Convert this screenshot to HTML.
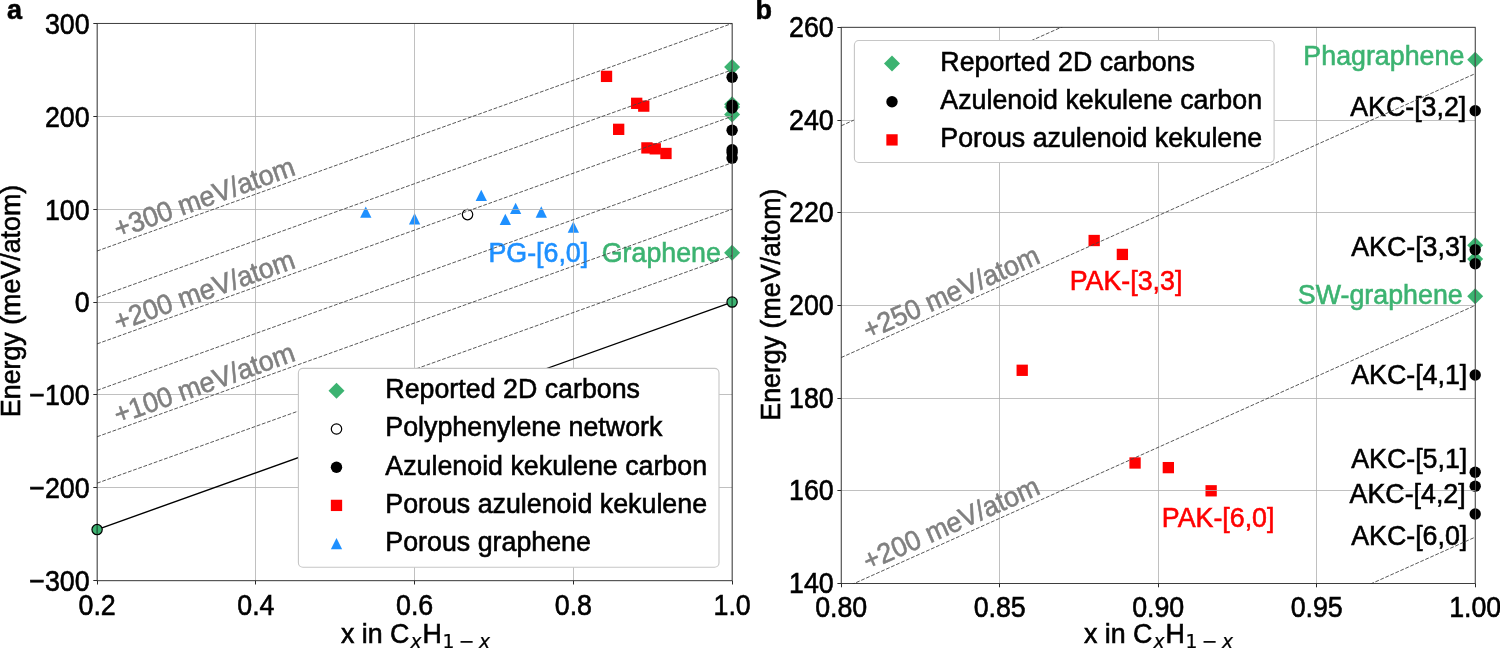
<!DOCTYPE html>
<html lang="en"><head><meta charset="utf-8"><title>Energy vs composition</title>
<style>html,body{margin:0;padding:0;background:#fff}body{width:1500px;height:658px;overflow:hidden}</style></head>
<body>
<svg width="1500" height="658" viewBox="0 0 1500 658" font-family='"Liberation Sans", Arial, Helvetica, sans-serif' style="display:block">
<rect width="1500" height="658" fill="#fff"/>
<clipPath id="ca"><rect x="97.1" y="23.45" width="635.0" height="557.25"/></clipPath>
<path d="M732.10 59.10L740.10 67.10L732.10 75.10L724.10 67.10Z" fill="#3cb371"/>
<path d="M732.10 96.25L740.10 104.25L732.10 112.25L724.10 104.25Z" fill="#3cb371"/>
<path d="M732.10 99.04L740.10 107.04L732.10 115.04L724.10 107.04Z" fill="#3cb371"/>
<path d="M732.10 106.47L740.10 114.47L732.10 122.47L724.10 114.47Z" fill="#3cb371"/>
<path d="M732.10 244.85L740.10 252.85L732.10 260.85L724.10 252.85Z" fill="#3cb371"/>
<circle cx="467.54" cy="214.59" r="5.2" fill="#fff" stroke="#000" stroke-width="1.2"/>
<circle cx="732.10" cy="77.32" r="5.7" fill="#000"/>
<circle cx="732.10" cy="105.18" r="5.7" fill="#000"/>
<circle cx="732.10" cy="107.97" r="5.7" fill="#000"/>
<circle cx="732.10" cy="130.26" r="5.7" fill="#000"/>
<circle cx="732.10" cy="149.76" r="5.7" fill="#000"/>
<circle cx="732.10" cy="152.55" r="5.7" fill="#000"/>
<circle cx="732.10" cy="158.12" r="5.7" fill="#000"/>
<rect x="600.88" y="70.74" width="11.3" height="11.3" fill="#ff0000"/>
<rect x="631.04" y="97.67" width="11.3" height="11.3" fill="#ff0000"/>
<rect x="638.11" y="100.46" width="11.3" height="11.3" fill="#ff0000"/>
<rect x="613.02" y="123.68" width="11.3" height="11.3" fill="#ff0000"/>
<rect x="641.28" y="142.25" width="11.3" height="11.3" fill="#ff0000"/>
<rect x="649.62" y="143.18" width="11.3" height="11.3" fill="#ff0000"/>
<rect x="660.33" y="147.82" width="11.3" height="11.3" fill="#ff0000"/>
<path d="M365.78 206.52L371.43 217.82L360.13 217.82Z" fill="#1e90ff"/>
<path d="M414.60 213.12L420.25 224.42L408.95 224.42Z" fill="#1e90ff"/>
<path d="M481.27 189.80L486.92 201.10L475.62 201.10Z" fill="#1e90ff"/>
<path d="M505.33 213.77L510.98 225.07L499.68 225.07Z" fill="#1e90ff"/>
<path d="M515.64 202.71L521.29 214.01L509.99 214.01Z" fill="#1e90ff"/>
<path d="M541.28 206.34L546.93 217.64L535.63 217.64Z" fill="#1e90ff"/>
<path d="M573.35 221.38L579.00 232.68L567.70 232.68Z" fill="#1e90ff"/>
<path d="M97.50 23.45V580.7M255.50 23.45V580.7M414.50 23.45V580.7M573.50 23.45V580.7M732.50 23.45V580.7M97.1 23.50H732.1M97.1 116.50H732.1M97.1 209.50H732.1M97.1 302.50H732.1M97.1 394.50H732.1M97.1 487.50H732.1M97.1 580.50H732.1" stroke="#b0b0b0" stroke-width="0.8" fill="none"/>
<text transform="translate(588.20,261.70) scale(0.9434,1)" text-anchor="end" fill="#1e90ff" stroke="#1e90ff" stroke-width="0.6" font-size="28.41">PG-[6,0]</text>
<text transform="translate(720.90,261.70) scale(0.9569,1)" text-anchor="end" fill="#3cb371" stroke="#3cb371" stroke-width="0.6" font-size="28.01">Graphene</text>
<path d="M97.10 529.62L732.10 302.07" stroke="#000" stroke-width="1.4" fill="none"/>
<path d="M97.10 483.18L732.10 255.64M97.10 436.74L732.10 209.20M97.10 390.31L732.10 162.76M97.10 343.87L732.10 116.33M97.10 297.43L732.10 69.89M97.10 250.99L732.10 23.45" stroke="#454545" stroke-width="0.9" stroke-dasharray="3.8 1.67" fill="none" clip-path="url(#ca)"/>
<circle cx="97.10" cy="529.62" r="5.15" fill="#3cb371" stroke="#000" stroke-width="1.2"/>
<circle cx="732.10" cy="302.07" r="5.15" fill="#3cb371" stroke="#000" stroke-width="1.2"/>
<rect x="97.1" y="23.45" width="635.0" height="557.25" fill="none" stroke="#000" stroke-opacity="0.68" stroke-width="1"/>
<path d="M97.50 580.7v3.8M255.50 580.7v3.8M414.50 580.7v3.8M573.50 580.7v3.8M732.50 580.7v3.8M97.1 23.50h-3.8M97.1 116.50h-3.8M97.1 209.50h-3.8M97.1 302.50h-3.8M97.1 394.50h-3.8M97.1 487.50h-3.8M97.1 580.50h-3.8" stroke="#2a2a2a" stroke-width="1" fill="none"/>
<text transform="translate(97.10,614.60) scale(0.9259,1)" text-anchor="middle" fill="#000" stroke="#000" stroke-width="0.6" font-size="28.94">0.2</text>
<text transform="translate(255.85,614.60) scale(0.9259,1)" text-anchor="middle" fill="#000" stroke="#000" stroke-width="0.6" font-size="28.94">0.4</text>
<text transform="translate(414.60,614.60) scale(0.9259,1)" text-anchor="middle" fill="#000" stroke="#000" stroke-width="0.6" font-size="28.94">0.6</text>
<text transform="translate(573.35,614.60) scale(0.9259,1)" text-anchor="middle" fill="#000" stroke="#000" stroke-width="0.6" font-size="28.94">0.8</text>
<text transform="translate(732.10,614.60) scale(0.9259,1)" text-anchor="middle" fill="#000" stroke="#000" stroke-width="0.6" font-size="28.94">1.0</text>
<text transform="translate(89.60,33.85) scale(0.9259,1)" text-anchor="end" fill="#000" stroke="#000" stroke-width="0.6" font-size="28.94">300</text>
<text transform="translate(89.60,126.73) scale(0.9259,1)" text-anchor="end" fill="#000" stroke="#000" stroke-width="0.6" font-size="28.94">200</text>
<text transform="translate(89.60,219.60) scale(0.9259,1)" text-anchor="end" fill="#000" stroke="#000" stroke-width="0.6" font-size="28.94">100</text>
<text transform="translate(89.60,312.47) scale(0.9259,1)" text-anchor="end" fill="#000" stroke="#000" stroke-width="0.6" font-size="28.94">0</text>
<text transform="translate(89.60,405.35) scale(0.9259,1)" text-anchor="end" fill="#000" stroke="#000" stroke-width="0.6" font-size="28.94">−100</text>
<text transform="translate(89.60,498.22) scale(0.9259,1)" text-anchor="end" fill="#000" stroke="#000" stroke-width="0.6" font-size="28.94">−200</text>
<text transform="translate(89.60,591.10) scale(0.9259,1)" text-anchor="end" fill="#000" stroke="#000" stroke-width="0.6" font-size="28.94">−300</text>
<text transform="translate(118.00,238.50) rotate(-19.7) scale(0.9569,1)" text-anchor="start" fill="#808080" stroke="#808080" stroke-width="0.6" font-size="28.01">+300 meV/atom</text>
<text transform="translate(118.00,331.40) rotate(-19.7) scale(0.9569,1)" text-anchor="start" fill="#808080" stroke="#808080" stroke-width="0.6" font-size="28.01">+200 meV/atom</text>
<text transform="translate(118.00,424.30) rotate(-19.7) scale(0.9569,1)" text-anchor="start" fill="#808080" stroke="#808080" stroke-width="0.6" font-size="28.01">+100 meV/atom</text>
<rect x="298.4" y="368.4" width="420.6" height="198.9" rx="4.5" fill="#fff" fill-opacity="1" stroke="#c6c6c6" stroke-width="1.1"/>
<path d="M336.50 382.80L344.50 390.80L336.50 398.80L328.50 390.80Z" fill="#3cb371"/>
<circle cx="336.50" cy="429.00" r="5.2" fill="#fff" stroke="#000" stroke-width="1.2"/>
<circle cx="336.50" cy="467.20" r="5.7" fill="#000"/>
<rect x="330.85" y="499.75" width="11.3" height="11.3" fill="#ff0000"/>
<path d="M336.50 537.95L342.15 549.25L330.85 549.25Z" fill="#1e90ff"/>
<text transform="translate(385.30,398.20) scale(0.9569,1)" text-anchor="start" fill="#000" stroke="#000" stroke-width="0.6" font-size="28.01">Reported 2D carbons</text>
<text transform="translate(385.30,436.40) scale(0.9569,1)" text-anchor="start" fill="#000" stroke="#000" stroke-width="0.6" font-size="28.01">Polyphenylene network</text>
<text transform="translate(385.30,474.60) scale(0.9569,1)" text-anchor="start" fill="#000" stroke="#000" stroke-width="0.6" font-size="28.01">Azulenoid kekulene carbon</text>
<text transform="translate(385.30,512.80) scale(0.9569,1)" text-anchor="start" fill="#000" stroke="#000" stroke-width="0.6" font-size="28.01">Porous azulenoid kekulene</text>
<text transform="translate(385.30,551.00) scale(0.9569,1)" text-anchor="start" fill="#000" stroke="#000" stroke-width="0.6" font-size="28.01">Porous graphene</text>
<text transform="translate(340.90,643.00) scale(0.9569,1)" text-anchor="start" fill="#000" stroke="#000" stroke-width="0.6" font-size="28.01">x in C<tspan font-size="19.6" stroke-width="0.25" dy="4.6" dx="1.2" font-style="italic" font-family="DejaVu Sans, sans-serif">x</tspan><tspan dy="-4.6" dx="1.0">H</tspan><tspan font-size="19.6" stroke-width="0.25" dy="4.6" dx="0.5" word-spacing="-1.6" font-family="DejaVu Sans, sans-serif">1 − <tspan font-style="italic">x</tspan></tspan></text>
<text transform="translate(20.10,301.00) rotate(-90) scale(0.9804,1)" text-anchor="middle" fill="#000" stroke="#000" stroke-width="0.6" font-size="27.34">Energy (meV/atom)</text>
<text transform="translate(7.00,19.20) scale(0.9569,1)" text-anchor="start" fill="#000" stroke="#000" stroke-width="0.6" font-size="28.21" font-weight="bold">a</text>
<clipPath id="cb"><rect x="841.2" y="27.3" width="634.0" height="556.2"/></clipPath>
<path d="M1475.20 51.75L1483.20 59.75L1475.20 67.75L1467.20 59.75Z" fill="#3cb371"/>
<path d="M1475.20 237.15L1483.20 245.15L1475.20 253.15L1467.20 245.15Z" fill="#3cb371"/>
<path d="M1475.20 251.05L1483.20 259.05L1475.20 267.05L1467.20 259.05Z" fill="#3cb371"/>
<path d="M1475.20 288.13L1483.20 296.13L1475.20 304.13L1467.20 296.13Z" fill="#3cb371"/>
<circle cx="1475.20" cy="110.73" r="5.7" fill="#000"/>
<circle cx="1475.20" cy="249.78" r="5.7" fill="#000"/>
<circle cx="1475.20" cy="263.69" r="5.7" fill="#000"/>
<circle cx="1475.20" cy="374.93" r="5.7" fill="#000"/>
<circle cx="1475.20" cy="472.26" r="5.7" fill="#000"/>
<circle cx="1475.20" cy="486.17" r="5.7" fill="#000"/>
<circle cx="1475.20" cy="513.98" r="5.7" fill="#000"/>
<rect x="968.06" y="100.44" width="11.3" height="11.3" fill="#ff0000"/>
<rect x="1088.52" y="234.86" width="11.3" height="11.3" fill="#ff0000"/>
<rect x="1116.73" y="248.77" width="11.3" height="11.3" fill="#ff0000"/>
<rect x="1016.56" y="364.64" width="11.3" height="11.3" fill="#ff0000"/>
<rect x="1129.41" y="457.34" width="11.3" height="11.3" fill="#ff0000"/>
<rect x="1162.69" y="461.98" width="11.3" height="11.3" fill="#ff0000"/>
<rect x="1205.49" y="485.15" width="11.3" height="11.3" fill="#ff0000"/>
<path d="M841.50 27.3V583.5M999.50 27.3V583.5M1158.50 27.3V583.5M1316.50 27.3V583.5M1475.50 27.3V583.5M841.2 27.50H1475.2M841.2 120.50H1475.2M841.2 212.50H1475.2M841.2 305.50H1475.2M841.2 398.50H1475.2M841.2 490.50H1475.2M841.2 583.50H1475.2" stroke="#b0b0b0" stroke-width="0.8" fill="none"/>
<text transform="translate(1464.30,64.80) scale(0.9569,1)" text-anchor="end" fill="#3cb371" stroke="#3cb371" stroke-width="0.6" font-size="28.01">Phagraphene</text>
<text transform="translate(1462.70,304.00) scale(0.9569,1)" text-anchor="end" fill="#3cb371" stroke="#3cb371" stroke-width="0.6" font-size="28.01">SW-graphene</text>
<text transform="translate(1466.30,115.80) scale(0.9434,1)" text-anchor="end" fill="#000" stroke="#000" stroke-width="0.6" font-size="28.41">AKC-[3,2]</text>
<text transform="translate(1467.30,255.80) scale(0.9434,1)" text-anchor="end" fill="#000" stroke="#000" stroke-width="0.6" font-size="28.41">AKC-[3,3]</text>
<text transform="translate(1467.30,384.00) scale(0.9434,1)" text-anchor="end" fill="#000" stroke="#000" stroke-width="0.6" font-size="28.41">AKC-[4,1]</text>
<text transform="translate(1467.30,468.00) scale(0.9434,1)" text-anchor="end" fill="#000" stroke="#000" stroke-width="0.6" font-size="28.41">AKC-[5,1]</text>
<text transform="translate(1465.70,503.00) scale(0.9434,1)" text-anchor="end" fill="#000" stroke="#000" stroke-width="0.6" font-size="28.41">AKC-[4,2]</text>
<text transform="translate(1467.30,545.00) scale(0.9434,1)" text-anchor="end" fill="#000" stroke="#000" stroke-width="0.6" font-size="28.41">AKC-[6,0]</text>
<text transform="translate(1126.00,290.00) scale(0.9434,1)" text-anchor="middle" fill="#ff0000" stroke="#ff0000" stroke-width="0.6" font-size="28.41">PAK-[3,3]</text>
<text transform="translate(1218.10,526.80) scale(0.9434,1)" text-anchor="middle" fill="#ff0000" stroke="#ff0000" stroke-width="0.6" font-size="28.41">PAK-[6,0]</text>
<path d="M841.20 821.04L1475.20 537.15M841.20 589.29L1475.20 305.40M841.20 357.54L1475.20 73.65M841.20 125.79L1475.20 -158.10" stroke="#454545" stroke-width="0.9" stroke-dasharray="3.8 1.67" fill="none" clip-path="url(#cb)"/>
<rect x="841.2" y="27.3" width="634.0" height="556.2" fill="none" stroke="#000" stroke-opacity="0.68" stroke-width="1"/>
<path d="M841.50 583.5v3.8M999.50 583.5v3.8M1158.50 583.5v3.8M1316.50 583.5v3.8M1475.50 583.5v3.8M841.2 27.50h-3.8M841.2 120.50h-3.8M841.2 212.50h-3.8M841.2 305.50h-3.8M841.2 398.50h-3.8M841.2 490.50h-3.8M841.2 583.50h-3.8" stroke="#2a2a2a" stroke-width="1" fill="none"/>
<text transform="translate(841.20,617.40) scale(0.9259,1)" text-anchor="middle" fill="#000" stroke="#000" stroke-width="0.6" font-size="28.94">0.80</text>
<text transform="translate(999.70,617.40) scale(0.9259,1)" text-anchor="middle" fill="#000" stroke="#000" stroke-width="0.6" font-size="28.94">0.85</text>
<text transform="translate(1158.20,617.40) scale(0.9259,1)" text-anchor="middle" fill="#000" stroke="#000" stroke-width="0.6" font-size="28.94">0.90</text>
<text transform="translate(1316.70,617.40) scale(0.9259,1)" text-anchor="middle" fill="#000" stroke="#000" stroke-width="0.6" font-size="28.94">0.95</text>
<text transform="translate(1475.20,617.40) scale(0.9259,1)" text-anchor="middle" fill="#000" stroke="#000" stroke-width="0.6" font-size="28.94">1.00</text>
<text transform="translate(833.70,36.90) scale(0.9259,1)" text-anchor="end" fill="#000" stroke="#000" stroke-width="0.6" font-size="28.94">260</text>
<text transform="translate(833.70,129.60) scale(0.9259,1)" text-anchor="end" fill="#000" stroke="#000" stroke-width="0.6" font-size="28.94">240</text>
<text transform="translate(833.70,222.30) scale(0.9259,1)" text-anchor="end" fill="#000" stroke="#000" stroke-width="0.6" font-size="28.94">220</text>
<text transform="translate(833.70,315.00) scale(0.9259,1)" text-anchor="end" fill="#000" stroke="#000" stroke-width="0.6" font-size="28.94">200</text>
<text transform="translate(833.70,407.70) scale(0.9259,1)" text-anchor="end" fill="#000" stroke="#000" stroke-width="0.6" font-size="28.94">180</text>
<text transform="translate(833.70,500.40) scale(0.9259,1)" text-anchor="end" fill="#000" stroke="#000" stroke-width="0.6" font-size="28.94">160</text>
<text transform="translate(833.70,593.10) scale(0.9259,1)" text-anchor="end" fill="#000" stroke="#000" stroke-width="0.6" font-size="28.94">140</text>
<text transform="translate(868.30,340.00) rotate(-24.1) scale(0.9569,1)" text-anchor="start" fill="#808080" stroke="#808080" stroke-width="0.6" font-size="28.01">+250 meV/atom</text>
<text transform="translate(868.30,571.00) rotate(-24.1) scale(0.9569,1)" text-anchor="start" fill="#808080" stroke="#808080" stroke-width="0.6" font-size="28.01">+200 meV/atom</text>
<rect x="854.4" y="40.5" width="419.7" height="122" rx="4.5" fill="#fff" fill-opacity="1" stroke="#c6c6c6" stroke-width="1.1"/>
<path d="M892.00 55.50L900.00 63.50L892.00 71.50L884.00 63.50Z" fill="#3cb371"/>
<circle cx="892.00" cy="101.70" r="5.7" fill="#000"/>
<rect x="886.35" y="134.25" width="11.3" height="11.3" fill="#ff0000"/>
<text transform="translate(940.30,70.90) scale(0.9569,1)" text-anchor="start" fill="#000" stroke="#000" stroke-width="0.6" font-size="28.01">Reported 2D carbons</text>
<text transform="translate(940.30,109.10) scale(0.9569,1)" text-anchor="start" fill="#000" stroke="#000" stroke-width="0.6" font-size="28.01">Azulenoid kekulene carbon</text>
<text transform="translate(940.30,147.30) scale(0.9569,1)" text-anchor="start" fill="#000" stroke="#000" stroke-width="0.6" font-size="28.01">Porous azulenoid kekulene</text>
<text transform="translate(1083.90,643.00) scale(0.9569,1)" text-anchor="start" fill="#000" stroke="#000" stroke-width="0.6" font-size="28.01">x in C<tspan font-size="19.6" stroke-width="0.25" dy="4.6" dx="1.2" font-style="italic" font-family="DejaVu Sans, sans-serif">x</tspan><tspan dy="-4.6" dx="1.0">H</tspan><tspan font-size="19.6" stroke-width="0.25" dy="4.6" dx="0.5" word-spacing="-1.6" font-family="DejaVu Sans, sans-serif">1 − <tspan font-style="italic">x</tspan></tspan></text>
<text transform="translate(779.90,304.60) rotate(-90) scale(0.9804,1)" text-anchor="middle" fill="#000" stroke="#000" stroke-width="0.6" font-size="27.34">Energy (meV/atom)</text>
<text transform="translate(755.50,19.20) scale(0.9569,1)" text-anchor="start" fill="#000" stroke="#000" stroke-width="0.6" font-size="28.21" font-weight="bold">b</text>
</svg>
</body></html>
